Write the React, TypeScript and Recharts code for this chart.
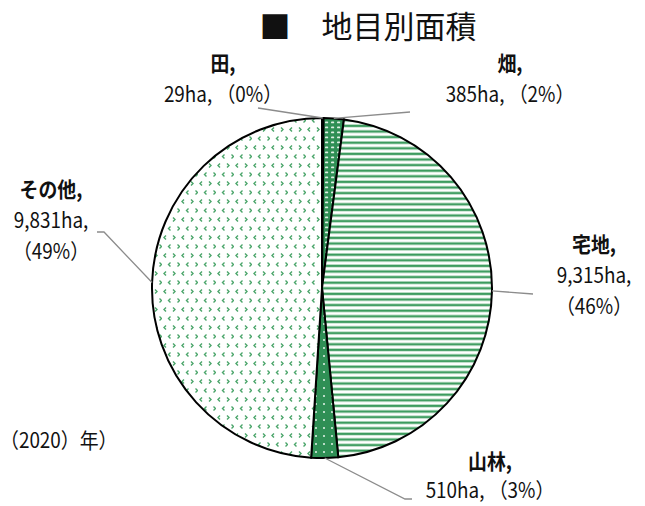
import { Cell, Pie, PieChart } from 'recharts'

const categories = ['田', '畑', '宅地', '山林', 'その他']
const areas = [29, 385, 9315, 510, 9831]
const areaLabels = ['29ha', '385ha', '9,315ha', '510ha', '9,831ha']
const shares = ['0%', '2%', '46%', '3%', '49%']

const data = categories.map((name, i) => ({
  name,
  value: areas[i],
  areaLabel: areaLabels[i],
  share: shares[i],
}))

const fills = [
  '#2f8f55',
  'url(#pDash)',
  'url(#pStripe)',
  'url(#pDots)',
  'url(#pChevron)',
]

const twoLine = (d: any) => [`${d.name},`, `${d.areaLabel}, （${d.share}）`]
const threeLine = (d: any) => [`${d.name},`, `${d.areaLabel},`, `（${d.share}）`]

// label placement relative to the pie centre
const labelLayout = [
  { bend: [-64, -180], end: [-64, -180], tx: -99, ty: -217, lines: twoLine, gap: 31 },
  { bend: [88, -176], end: [88, -176], tx: 188, ty: -217, lines: twoLine, gap: 31 },
  { bend: [211, 6], end: [211, 6], tx: 272, ty: -36, lines: threeLine, gap: 31 },
  { bend: [83, 211], end: [90, 211], tx: 168, ty: 181, lines: twoLine, gap: 29 },
  { bend: [-218, -56], end: [-225, -56], tx: -271, ty: -91, lines: threeLine, gap: 31 },
]

const RAD = Math.PI / 180
const font = '"Noto Sans CJK JP", "Noto Sans", sans-serif'

function renderLabel(props: any) {
  const { cx, cy, midAngle, outerRadius, index, payload } = props
  const lay = labelLayout[index]
  const sx = cx + outerRadius * Math.cos(-midAngle * RAD)
  const sy = cy + outerRadius * Math.sin(-midAngle * RAD)
  const lines = lay.lines(payload)
  return (
    <g key={`lbl-${index}`}>
      <polyline
        points={`${sx},${sy} ${cx + lay.bend[0]},${cy + lay.bend[1]} ${cx + lay.end[0]},${cy + lay.end[1]}`}
        fill="none"
        stroke="#8c8c8c"
        strokeWidth={1.3}
      />
      <g transform={`translate(${cx + lay.tx},${cy + lay.ty}) scale(0.9,1)`}>
        <text x={0} y={0} textAnchor="middle" fontSize={21} fontFamily={font} fill="#111">
          {lines.map((t: string, i: number) => (
            <tspan key={i} x={0} dy={i === 0 ? 0 : lay.gap} fontWeight={i === 0 ? 700 : 400}>
              {t}
            </tspan>
          ))}
        </text>
      </g>
    </g>
  )
}

export default function App() {
  return (
    <div style={{ position: 'fixed', left: 0, top: 0, background: '#fff' }}>
      <PieChart width={645} height={506} margin={{ top: 0, right: 0, bottom: 0, left: 0 }}>
        <defs>
          <pattern id="pStripe" width="8" height="5.6" patternUnits="userSpaceOnUse">
            <rect width="8" height="5.6" fill="#fff" />
            <rect y="1.2" width="8" height="3" fill="#9fd0ae" />
            <rect y="1.8" width="8" height="1.8" fill="#3a9a5c" />
          </pattern>
          <pattern id="pDash" width="6" height="5" patternUnits="userSpaceOnUse">
            <rect width="6" height="5" fill="#2f8f55" />
            <rect x="1" y="1.5" width="3.2" height="1.8" rx="0.9" fill="#dff0e4" />
          </pattern>
          <pattern id="pDots" width="8" height="8" patternUnits="userSpaceOnUse">
            <rect width="8" height="8" fill="#2f8f55" />
            <circle cx="4" cy="4" r="1" fill="#e8f5ec" />
          </pattern>
          <pattern id="pChevron" width="18" height="18" patternUnits="userSpaceOnUse">
            <rect width="18" height="18" fill="#fff" />
            <polyline points="4,1.5 2,3.5 4,5.5" fill="none" stroke="#4aa56a" strokeWidth="1.4" />
            <polyline points="11,1.5 13,3.5 11,5.5" fill="none" stroke="#4aa56a" strokeWidth="1.4" />
            <polyline points="8.5,10.5 6.5,12.5 8.5,14.5" fill="none" stroke="#4aa56a" strokeWidth="1.4" />
            <polyline points="15.5,10.5 17.5,12.5 15.5,14.5" fill="none" stroke="#4aa56a" strokeWidth="1.4" />
          </pattern>
        </defs>
        <text x={368} y={38} textAnchor="middle" fontSize={31} fontFamily={font} fill="#111">
          ■　地目別面積
        </text>
        <g transform="translate(0,448) scale(0.9,1)">
          <text x={0} y={0} fontSize={21} fontFamily={font} fill="#111">
            （2020）年）
          </text>
        </g>
        <Pie
          data={data}
          dataKey="value"
          nameKey="name"
          cx={322}
          cy={288}
          outerRadius={170}
          startAngle={90}
          endAngle={-270}
          stroke="#000"
          strokeWidth={2}
          label={renderLabel}
          labelLine={false}
          isAnimationActive={false}
        >
          {data.map((d, i) => (
            <Cell key={d.name} fill={fills[i]} />
          ))}
        </Pie>
      </PieChart>
    </div>
  )
}
